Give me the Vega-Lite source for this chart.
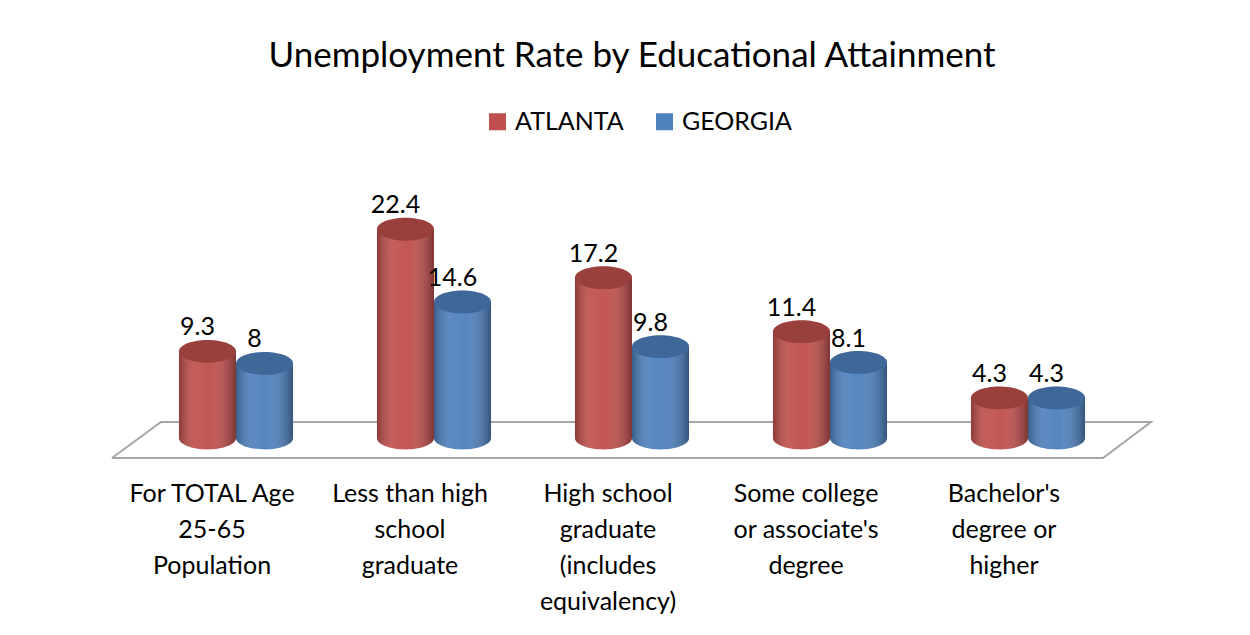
{
  "$schema": "https://vega.github.io/schema/vega-lite/v6.json",
  "width": 990,
  "height": 233,
  "autosize": {"type": "none"},
  "padding": {"left": 137, "top": 205, "right": 123, "bottom": 197},
  "background": "white",
  "config": {"view": {"stroke": null}, "font": "Lato"},
  "title": {"text": "Unemployment Rate by Educational Attainment", "fontSize": 35, "fontWeight": "normal", "font": "Lato", "color": "#000000", "offset": 35, "anchor": "middle"},
  "datasets": {
    "bars": [
      {"cat": "For TOTAL Age|25-65|Population", "series": "ATLANTA", "value": 9.3},
      {"cat": "For TOTAL Age|25-65|Population", "series": "GEORGIA", "value": 8},
      {"cat": "Less than high|school|graduate", "series": "ATLANTA", "value": 22.4},
      {"cat": "Less than high|school|graduate", "series": "GEORGIA", "value": 14.6},
      {"cat": "High school|graduate|(includes|equivalency)", "series": "ATLANTA", "value": 17.2},
      {"cat": "High school|graduate|(includes|equivalency)", "series": "GEORGIA", "value": 9.8},
      {"cat": "Some college|or associate's|degree", "series": "ATLANTA", "value": 11.4},
      {"cat": "Some college|or associate's|degree", "series": "GEORGIA", "value": 8.1},
      {"cat": "Bachelor's|degree or|higher", "series": "ATLANTA", "value": 4.3},
      {"cat": "Bachelor's|degree or|higher", "series": "GEORGIA", "value": 4.3}
    ],
    "floor": [
      {"i": 0, "fx": -0.0253, "fy": -2.146},
      {"i": 1, "fx": 0.0242, "fy": 1.717},
      {"i": 2, "fx": 1.0242, "fy": 1.717},
      {"i": 3, "fx": 0.9758, "fy": -2.146},
      {"i": 4, "fx": -0.0253, "fy": -2.146}
    ]
  },
  "layer": [
    {
      "data": {"name": "floor"},
      "mark": {"type": "line", "stroke": "#A6A6A6", "strokeWidth": 2, "clip": false},
      "encoding": {
        "x": {"field": "fx", "type": "quantitative", "scale": {"domain": [0, 1], "nice": false, "zero": false}, "axis": null},
        "y": {"field": "fy", "type": "quantitative", "scale": {"domain": [0, 25], "nice": false}, "axis": null},
        "order": {"field": "i", "type": "quantitative"}
      }
    },
    {
      "data": {"name": "bars"},
      "encoding": {
        "x": {
          "field": "cat", "type": "nominal", "sort": null,
          "scale": {"paddingInner": 0.424, "paddingOuter": 0.212},
          "axis": {
            "title": null, "domain": false, "ticks": false, "labelAngle": 0,
            "labelExpr": "split(datum.value, '|')",
            "labelFontSize": 25, "labelLineHeight": 36, "labelColor": "#000000",
            "labelPadding": 43, "labelOffset": -24, "labelLimit": 400,
            "labelOverlap": false, "labelBound": false, "labelFlush": false,
            "labelBaseline": "top"
          }
        },
        "xOffset": {"field": "series", "type": "nominal", "scale": {"paddingInner": 0, "paddingOuter": 0}},
        "y": {"field": "value", "type": "quantitative", "scale": {"domain": [0, 25], "nice": false}, "axis": null}
      },
      "layer": [
        {
          "mark": {"type": "point", "filled": true, "opacity": 1, "size": 3249, "strokeWidth": 0,
            "shape": "M-1,0C-1,-0.2209,-0.5523,-0.4,0,-0.4C0.5523,-0.4,1,-0.2209,1,0C1,0.2209,0.5523,0.4,0,0.4C-0.5523,0.4,-1,0.2209,-1,0Z"},
          "encoding": {
            "y": {"datum": 0, "type": "quantitative"},
            "color": {"field": "series", "type": "nominal",
              "scale": {"domain": ["ATLANTA", "GEORGIA"], "range": ["#C0504D", "#4F81BD"]},
              "legend": {"orient": "none", "legendX": 348, "legendY": -96, "direction": "horizontal", "title": null,
                "symbolType": "square", "symbolSize": 289, "symbolStrokeWidth": 0, "symbolOpacity": 1,
                "labelFontSize": 25, "labelColor": "#000000", "labelOffset": 5, "columnPadding": 28, "labelLimit": 300}
            }
          }
        },
        {
          "mark": {"type": "point", "filled": true, "opacity": 1, "size": 3249, "strokeWidth": 0,
            "shape": "M-1,0C-1,-0.2209,-0.5523,-0.4,0,-0.4C0.5523,-0.4,1,-0.2209,1,0C1,0.2209,0.5523,0.4,0,0.4C-0.5523,0.4,-1,0.2209,-1,0Z",
            "fill": {"gradient": "linear", "x1": 0, "y1": 0, "x2": 1, "y2": 0, "stops": [
              {"offset": 0, "color": "rgba(0,0,0,0.28)"},
              {"offset": 0.3, "color": "rgba(255,255,255,0.08)"},
              {"offset": 0.55, "color": "rgba(255,255,255,0.04)"},
              {"offset": 1, "color": "rgba(0,0,0,0.35)"}
            ]}},
          "encoding": {"y": {"datum": 0, "type": "quantitative"}}
        },
        {
          "mark": {"type": "bar", "opacity": 1},
          "encoding": {"color": {"field": "series", "type": "nominal"}}
        },
        {
          "mark": {"type": "bar", "opacity": 1,
            "fill": {"gradient": "linear", "x1": 0, "y1": 0, "x2": 1, "y2": 0, "stops": [
              {"offset": 0, "color": "rgba(0,0,0,0.28)"},
              {"offset": 0.3, "color": "rgba(255,255,255,0.08)"},
              {"offset": 0.55, "color": "rgba(255,255,255,0.04)"},
              {"offset": 1, "color": "rgba(0,0,0,0.35)"}
            ]}},
          "encoding": {}
        },
        {
          "mark": {"type": "point", "filled": true, "opacity": 1, "size": 3249, "strokeWidth": 0,
            "shape": "M-1,0C-1,-0.2209,-0.5523,-0.4,0,-0.4C0.5523,-0.4,1,-0.2209,1,0C1,0.2209,0.5523,0.4,0,0.4C-0.5523,0.4,-1,0.2209,-1,0Z"},
          "encoding": {"color": {"field": "series", "type": "nominal"}}
        },
        {
          "mark": {"type": "point", "filled": true, "opacity": 1, "size": 3249, "strokeWidth": 0,
            "shape": "M-1,0C-1,-0.2209,-0.5523,-0.4,0,-0.4C0.5523,-0.4,1,-0.2209,1,0C1,0.2209,0.5523,0.4,0,0.4C-0.5523,0.4,-1,0.2209,-1,0Z",
            "fill": "rgba(0,0,0,0.2)"}
        },
        {
          "mark": {"type": "text", "fontSize": 25, "color": "#000000", "baseline": "alphabetic", "dx": -10, "dy": -16},
          "encoding": {"text": {"field": "value", "type": "quantitative"}}
        }
      ]
    }
  ],
  "resolve": {"scale": {"x": "independent"}}
}
